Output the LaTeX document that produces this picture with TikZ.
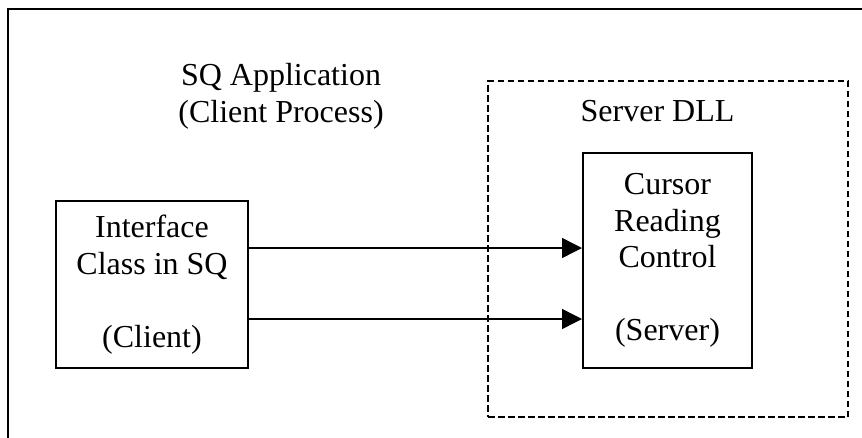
\documentclass[tikz,border=0pt]{standalone}
\usepackage{fontspec}
\setmainfont{Liberation Serif}
\usetikzlibrary{arrows.meta}
\begin{document}
\begin{tikzpicture}[x=1pt,y=-1pt,
  txt/.style={font=\fontsize{32pt}{36.5pt}\selectfont, inner sep=0pt, align=center},
  block/.style={txt, draw, line width=2pt},
  region/.style={draw, line width=2pt, dash pattern=on 6.5pt off 3.5pt},
  frame/.style={draw, line width=2pt},
  arr/.style={line width=1.4pt, -{Triangle[length=20pt,width=20pt]}}]
\useasboundingbox (0,0) rectangle (862,437);
\clip (0,0) rectangle (862,437);

% page frame (runs past the right and bottom edges)
\draw[frame] (8,450) -- (8,9) -- (880,9);

% server DLL region
\node[region, minimum width=360pt, minimum height=336pt] (dll) at (668,249) {};
\node[txt, anchor=base] (dlltitle) at (657.5,121.7) {Server DLL};

% client process caption
\node[txt] (apptitle) at (281,96.5) {SQ Application\\(Client Process)};

% the two components
\node[block, minimum width=192pt, minimum height=167pt] (client) at (152,284.5)
  {Interface\\Class in SQ\\[36.5pt](Client)};
\node[block, minimum width=169pt, minimum height=215pt] (server) at (667.5,260.5)
  {Cursor\\Reading\\Control\\[36.5pt](Server)};

% calls from client to server
\coordinate (c1) at ([yshift=36.5pt]client.east);
\coordinate (c2) at ([yshift=-34.5pt]client.east);
\draw[arr] (c1) -- (c1 -| server.west);
\draw[arr] (c2) -- (c2 -| server.west);
\end{tikzpicture}
\end{document}
